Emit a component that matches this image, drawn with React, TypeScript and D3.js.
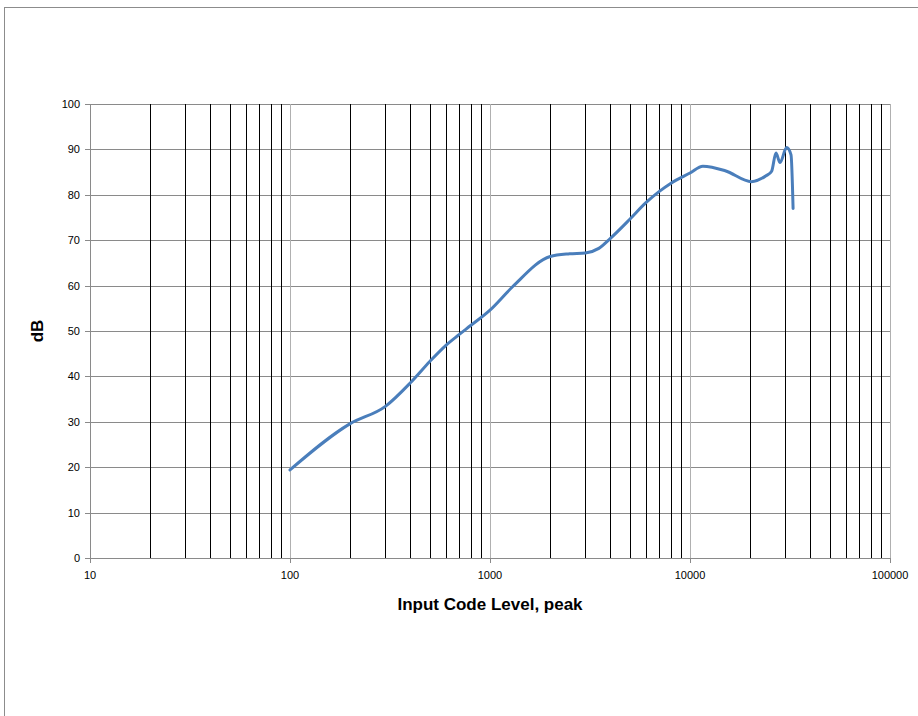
import React from "react";
import * as d3 from "d3";

const inputLevels = [100, 200, 300, 400, 500, 600, 700, 800, 1000, 1300, 2000, 2500, 3000, 3500, 4000, 5000, 6000, 7000, 8000, 10000, 11600, 15000, 20300, 24000, 25600, 26900, 28200, 30400, 32000, 32767];
const dbValues = [19.4, 29.6, 33.4, 38.6, 43.3, 46.8, 49.2, 51.2, 54.6, 59.8, 66.4, 67.0, 67.2, 68.2, 70.4, 74.6, 78.2, 80.7, 82.5, 84.8, 86.3, 85.3, 82.9, 84.2, 85.2, 89.2, 87.1, 90.4, 88.8, 77.0];

const xTickValues = [10, 100, 1000, 10000, 100000];
const yTickValues = [0, 10, 20, 30, 40, 50, 60, 70, 80, 90, 100];

export default function App() {
  const W = 918, H = 716;
  const left = 90, right = 890, top = 104, bottom = 558;
  const x = d3.scaleLog().domain([10, 100000]).range([left, right]);
  const y = d3.scaleLinear().domain([0, 100]).range([bottom, top]);

  const minorTicks: number[] = [];
  for (let d = 10; d < 100000; d *= 10) {
    for (let k = 2; k <= 9; k++) minorTicks.push(d * k);
  }

  const pts = inputLevels.map((v, i) => [x(v), y(dbValues[i])] as [number, number]);
  const line = d3.line().curve(d3.curveMonotoneX)(pts) || "";

  const font = "'Liberation Sans', Arial, sans-serif";

  return (
    <svg width={W} height={H} style={{ position: "absolute", left: 0, top: 0 }}>
      <rect x={0} y={0} width={W} height={H} fill="#fff" />
      <rect x={4.5} y={7.5} width={W + 20} height={H + 20} fill="none" stroke="#8c8c8c" strokeWidth={1} />
      {yTickValues.map((t) => (
        <line key={"h" + t} x1={left} x2={right} y1={Math.round(y(t)) + 0.5} y2={Math.round(y(t)) + 0.5} stroke="#8a8a8a" strokeWidth={1} />
      ))}
      {minorTicks.map((t) => (
        <line key={"m" + t} x1={Math.round(x(t)) + 0.5} x2={Math.round(x(t)) + 0.5} y1={top} y2={bottom} stroke="#000" strokeWidth={1} />
      ))}
      {xTickValues.map((t) => (
        <line key={"M" + t} x1={Math.round(x(t)) + 0.5} x2={Math.round(x(t)) + 0.5} y1={top} y2={bottom} stroke="#b0b0b0" strokeWidth={1} />
      ))}
      <line x1={left + 0.5} x2={left + 0.5} y1={top} y2={bottom} stroke="#8a8a8a" />
      <line x1={left} x2={right} y1={bottom + 0.5} y2={bottom + 0.5} stroke="#8a8a8a" />
      {yTickValues.map((t) => (
        <line key={"yt" + t} x1={left - 5} x2={left} y1={Math.round(y(t)) + 0.5} y2={Math.round(y(t)) + 0.5} stroke="#8a8a8a" />
      ))}
      {xTickValues.map((t) => (
        <line key={"xt" + t} x1={Math.round(x(t)) + 0.5} x2={Math.round(x(t)) + 0.5} y1={bottom} y2={bottom + 5} stroke="#8a8a8a" />
      ))}
      {yTickValues.map((t) => (
        <text key={"yl" + t} x={left - 10} y={y(t) + 4} textAnchor="end" fontFamily={font} fontSize={11} fill="#000">{t}</text>
      ))}
      {xTickValues.map((t) => (
        <text key={"xl" + t} x={x(t)} y={bottom + 21} textAnchor="middle" fontFamily={font} fontSize={11} fill="#000">{t}</text>
      ))}
      <path d={line} fill="none" stroke="#4a7ebb" strokeWidth={3} strokeLinejoin="round" strokeLinecap="round" />
      <text x={(left + right) / 2} y={bottom + 52} textAnchor="middle" fontFamily={font} fontSize={17} fontWeight="bold" fill="#000">Input Code Level, peak</text>
      <text transform={`translate(43, ${(top + bottom) / 2}) rotate(-90)`} textAnchor="middle" fontFamily={font} fontSize={17} fontWeight="bold" fill="#000">dB</text>
    </svg>
  );
}
